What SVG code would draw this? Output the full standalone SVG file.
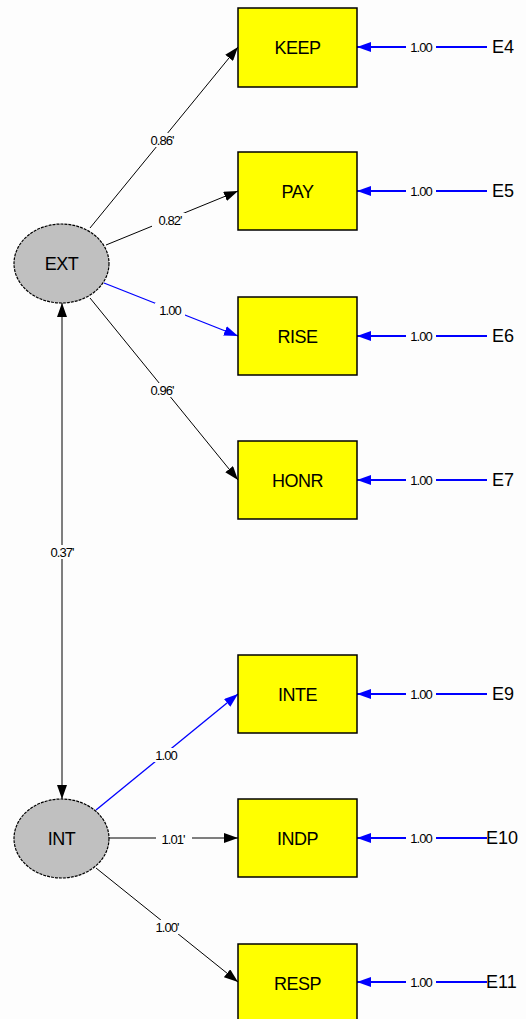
<svg xmlns="http://www.w3.org/2000/svg" width="526" height="1019" viewBox="0 0 526 1019">
<defs>
<style>
.box{fill:#ffff00;stroke:#000;stroke-width:1.5}
.lat{fill:#c0c0c0;stroke:#000;stroke-width:1.2;stroke-dasharray:3 1}
.nt{font-family:"Liberation Sans",Arial,sans-serif;font-size:18px;text-anchor:middle;dominant-baseline:central;fill:#000;letter-spacing:-0.5px}
.et{font-family:"Liberation Sans",Arial,sans-serif;font-size:18px;dominant-baseline:central;fill:#000}
.lb{font-family:"Liberation Sans",Arial,sans-serif;font-size:13px;text-anchor:middle;dominant-baseline:central;fill:#000;letter-spacing:-1px}
.lbg{fill:#fdfdfd}
.k{stroke:#000;stroke-width:1;fill:none}
.b{stroke:#0000ff;stroke-width:1.3;fill:none}
.bb{stroke:#0000ff;stroke-width:1.8;fill:none}
</style>
<marker id="ak" viewBox="0 0 14 10" refX="14" refY="5" markerWidth="14" markerHeight="10" markerUnits="userSpaceOnUse" orient="auto-start-reverse"><path d="M0,0 L14,5 L0,10 z" fill="#000"/></marker>
<marker id="ab" viewBox="0 0 14 10" refX="14" refY="5" markerWidth="14" markerHeight="10" markerUnits="userSpaceOnUse" orient="auto"><path d="M0,0 L14,5 L0,10 z" fill="#0000ff"/></marker>
</defs>
<rect width="526" height="1019" fill="#fdfdfd"/>
<g id="connectors">
<line class="k" x1="90" y1="228" x2="238" y2="47" marker-end="url(#ak)"/>
<line class="k" x1="106" y1="245" x2="238" y2="191" marker-end="url(#ak)"/>
<line class="b" x1="104" y1="283" x2="238" y2="336" marker-end="url(#ab)"/>
<line class="k" x1="90" y1="298" x2="238" y2="480" marker-end="url(#ak)"/>
<line class="k" x1="62" y1="303" x2="62" y2="799" marker-start="url(#ak)" marker-end="url(#ak)"/>
<line class="b" x1="96" y1="810" x2="238" y2="694" marker-end="url(#ab)"/>
<line class="k" x1="109" y1="838" x2="238" y2="838" marker-end="url(#ak)"/>
<line class="k" x1="96" y1="868" x2="238" y2="982" marker-end="url(#ak)"/>
<line class="bb" x1="487" y1="47" x2="357" y2="47" marker-end="url(#ab)"/>
<line class="bb" x1="487" y1="191" x2="357" y2="191" marker-end="url(#ab)"/>
<line class="bb" x1="487" y1="336" x2="357" y2="336" marker-end="url(#ab)"/>
<line class="bb" x1="487" y1="480" x2="357" y2="480" marker-end="url(#ab)"/>
<line class="bb" x1="487" y1="694" x2="357" y2="694" marker-end="url(#ab)"/>
<line class="bb" x1="487" y1="838" x2="357" y2="838" marker-end="url(#ab)"/>
<line class="bb" x1="487" y1="982" x2="357" y2="982" marker-end="url(#ab)"/>
<g id="labels">
<rect class="lbg" x="144" y="133" width="36" height="14"/><text class="lb" x="162" y="140">0.86'</text>
<rect class="lbg" x="152" y="213" width="36" height="14"/><text class="lb" x="170" y="220">0.82'</text>
<rect class="lbg" x="155" y="303" width="30" height="14"/><text class="lb" x="170" y="310">1.00</text>
<rect class="lbg" x="144" y="383" width="36" height="14"/><text class="lb" x="162" y="390">0.96'</text>
<rect class="lbg" x="44" y="545" width="36" height="14"/><text class="lb" x="62" y="552">0.37'</text>
<rect class="lbg" x="152" y="748" width="30" height="14"/><text class="lb" x="166" y="755">1.00</text>
<rect class="lbg" x="156" y="831" width="36" height="14"/><text class="lb" x="173" y="839">1.01'</text>
<rect class="lbg" x="150" y="920" width="36" height="14"/><text class="lb" x="167" y="927">1.00'</text>
<rect class="lbg" x="406" y="40" width="30" height="14"/><text class="lb" x="421" y="47">1.00</text>
<rect class="lbg" x="406" y="184" width="30" height="14"/><text class="lb" x="421" y="191">1.00</text>
<rect class="lbg" x="406" y="329" width="30" height="14"/><text class="lb" x="421" y="336">1.00</text>
<rect class="lbg" x="406" y="473" width="30" height="14"/><text class="lb" x="421" y="480">1.00</text>
<rect class="lbg" x="406" y="687" width="30" height="14"/><text class="lb" x="421" y="694">1.00</text>
<rect class="lbg" x="406" y="831" width="30" height="14"/><text class="lb" x="421" y="838">1.00</text>
<rect class="lbg" x="406" y="975" width="30" height="14"/><text class="lb" x="421" y="982">1.00</text>
</g>
</g>
<g id="EXT"><ellipse class="lat" cx="61.5" cy="263.5" rx="47.5" ry="39.5"/><text class="nt" x="61.5" y="264">EXT</text></g>
<g id="INT"><ellipse class="lat" cx="61.5" cy="838.5" rx="47.5" ry="39.5"/><text class="nt" x="61.5" y="839">INT</text></g>
<g id="KEEP"><rect class="box" x="238" y="8" width="119" height="79"/><text class="nt" x="297.5" y="48">KEEP</text></g>
<g id="PAY"><rect class="box" x="238" y="152" width="119" height="78"/><text class="nt" x="297.5" y="192">PAY</text></g>
<g id="RISE"><rect class="box" x="238" y="297" width="119" height="78"/><text class="nt" x="297.5" y="337">RISE</text></g>
<g id="HONR"><rect class="box" x="238" y="441" width="119" height="78"/><text class="nt" x="297.5" y="481">HONR</text></g>
<g id="INTE"><rect class="box" x="238" y="655" width="119" height="78"/><text class="nt" x="297.5" y="695">INTE</text></g>
<g id="INDP"><rect class="box" x="238" y="799" width="119" height="78"/><text class="nt" x="297.5" y="839">INDP</text></g>
<g id="RESP"><rect class="box" x="238" y="944" width="119" height="78"/><text class="nt" x="297.5" y="984">RESP</text></g>
<g id="E4"><text class="et" x="492" y="47">E4</text></g>
<g id="E5"><text class="et" x="492" y="191">E5</text></g>
<g id="E6"><text class="et" x="492" y="336">E6</text></g>
<g id="E7"><text class="et" x="492" y="480">E7</text></g>
<g id="E9"><text class="et" x="492" y="694">E9</text></g>
<g id="E10"><text class="et" x="486" y="838">E10</text></g>
<g id="E11"><text class="et" x="486" y="982">E11</text></g>
</svg>
